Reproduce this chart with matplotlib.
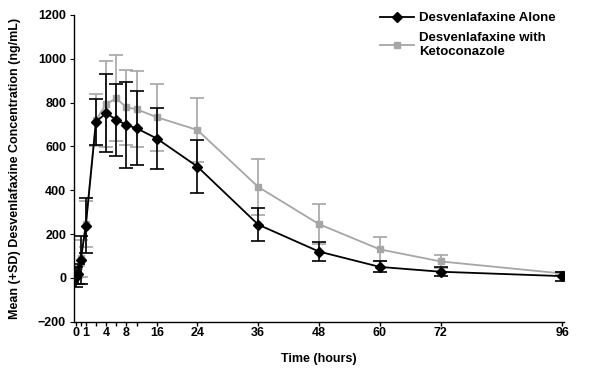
import matplotlib
matplotlib.use('Agg')
import matplotlib.pyplot as plt
from matplotlib.lines import Line2D

plt.rcParams['font.family'] = ['Liberation Sans', 'DejaVu Sans']
plt.rcParams['font.weight'] = 'bold'

# sampling times (hours)
hours = [0, 0.5, 1, 2, 4, 6, 8, 10, 12, 16, 24, 36, 48, 60, 72, 96]

# Desvenlafaxine alone
alone_mean = [5, 18, 80, 238, 712, 752, 722, 698, 683, 636, 508, 243, 120, 50, 28, 8]
alone_sd = [45, 45, 110, 125, 105, 178, 165, 195, 170, 137, 120, 75, 42, 25, 20, 20]

# Desvenlafaxine with ketoconazole
keto_mean = [20, 30, 90, 245, 720, 793, 820, 778, 770, 733, 675, 415, 245, 130, 75, 20]
keto_sd = [20, 25, 85, 105, 120, 198, 195, 172, 172, 152, 148, 128, 92, 55, 30, 8]

xtick_pos = [0, 2, 6, 10, 16, 24, 36, 48, 60, 72, 96]
xtick_labels = ['0', '1', '4', '8', '16', '24', '36', '48', '60', '72', '96']
minor_pos = [1, 4, 8, 12]

fig = plt.figure(figsize=(6, 3.73), dpi=100)
ax = fig.add_axes([0.124, 0.1375, 0.816, 0.8225])

gray = '#a6a6a6'
ax.errorbar(hours, keto_mean, yerr=keto_sd, color=gray, marker='s', markersize=5,
            linewidth=1.3, elinewidth=1.2, capsize=5, capthick=1.2, zorder=2)
ax.errorbar(hours, alone_mean, yerr=alone_sd, color='black', marker='D', markersize=5.5,
            linewidth=1.3, elinewidth=1.2, capsize=5, capthick=1.2, zorder=3)

ax.set_xlim(-0.25, 96.3)
ax.set_ylim(-200, 1200)
ax.set_yticks(range(-200, 1201, 200))
ax.set_xticks(xtick_pos)
ax.set_xticklabels(xtick_labels)
ax.set_xticks(minor_pos, minor=True)
ax.tick_params(axis='x', which='both', direction='out', length=3, width=1, labelsize=9, pad=1)
ax.tick_params(axis='y', direction='out', length=3, width=0.8, labelsize=9, pad=3)

for s in ['top', 'right']:
    ax.spines[s].set_visible(False)
for s in ['left', 'bottom']:
    ax.spines[s].set_linewidth(1)

ax.set_xlabel('Time (hours)', fontsize=9, fontweight='bold', labelpad=10)
ax.set_ylabel('Mean (+SD) Desvenlafaxine Concentration (ng/mL)', fontsize=9,
              fontweight='bold', labelpad=12)

handles = [
    Line2D([], [], color='black', marker='D', markersize=5.5, linewidth=1.3),
    Line2D([], [], color=gray, marker='s', markersize=5, linewidth=1.3),
]
labels = ['Desvenlafaxine Alone', 'Desvenlafaxine with\nKetoconazole']
ax.legend(handles, labels, loc='upper right', bbox_to_anchor=(1.0, 1.035),
          frameon=False, fontsize=9.5, handlelength=2.6, handletextpad=0.4,
          borderaxespad=0.2, labelspacing=0.6)

fig.savefig('out.png', dpi=100)
